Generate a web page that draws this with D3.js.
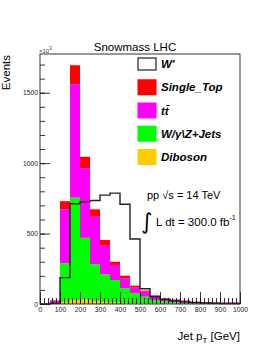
<!DOCTYPE html>
<meta charset="utf-8" />
<style>
  body {
    background: #fff;
    margin: 0px;
  }
  text {
    font-family: "Liberation Sans", Arial, sans-serif;
  }
  .axis path {
    display: none;
  }
  .axis line {
    stroke: #000;
    stroke-width: 0.8px;
  }
  .axis text {
    font-size: 6.8px;
    fill: #222;
  }
  .legend text {
    font-size: 11.5px;
    font-weight: bold;
    font-style: italic;
  }
</style>
<body></body>
<script src="https://d3js.org/d3.v7.min.js"></script>
<script>
  var width = 274,
    height = 355;

  var margin = { top: 54, right: 33, bottom: 51, left: 40 };

  // bin low edges, GeV (50 GeV wide bins)
  var binLow = [0, 50, 100, 150, 200, 250, 300, 350, 400, 450,
    500, 550, 600, 650, 700, 750, 800, 850, 900, 950];
  var binWidth = 50;

  // stacked backgrounds, bottom to top
  var diboson = [0, 2, 15, 28, 30, 22, 16, 11, 8, 6, 4, 3, 2, 2, 1, 1, 1, 1, 1, 1];
  var wjets = [0, 6, 274, 727, 440, 260, 194, 159, 103, 70, 48, 25, 19, 12, 9, 6, 4, 3, 2, 2];
  var ttbar = [0, 17, 383, 805, 492, 337, 204, 107, 71, 40, 35, 31, 19, 17, 13, 10, 8, 6, 6, 9];
  var singleTop = [0, 2, 58, 135, 83, 53, 40, 23, 19, 14, 8, 4, 3, 2, 2, 1, 1, 1, 1, 1];

  // signal, drawn as outline
  var wprime = [0, 5, 187, 712, 725, 735, 773, 787, 708, 462, 108, 52, 33, 22, 15, 10, 7, 5, 4, 3];

  var xTicks = [0, 100, 200, 300, 400, 500, 600, 700, 800, 900, 1000];
  var yTicks = [0, 500, 1000, 1500];

  var legendEntries = [
    { key: "wprime", label: "W'", color: "#fff" },
    { key: "singleTop", label: "Single_Top", color: "#ff0000" },
    { key: "ttbar", label: "tt\u0304", color: "#ff00ff" },
    { key: "wjets", label: "W/\u03b3\\Z+Jets", color: "#00ff00" },
    { key: "diboson", label: "Diboson", color: "#ffcc00" },
  ];

  var colors = {
    diboson: "#ffcc00",
    wjets: "#00ff00",
    ttbar: "#ff00ff",
    singleTop: "#ff0000",
  };

  var rows = binLow.map(function (lo, i) {
    return {
      lo: lo,
      diboson: diboson[i],
      wjets: wjets[i],
      ttbar: ttbar[i],
      singleTop: singleTop[i],
    };
  });

  var x = d3
    .scaleLinear()
    .domain([0, 1000])
    .range([margin.left, width - margin.right - 1]);

  var y = d3
    .scaleLinear()
    .domain([0, 1775])
    .range([height - margin.bottom, margin.top]);

  var svg = d3
    .select("body")
    .append("svg")
    .attr("width", width)
    .attr("height", height);

  var series = d3
    .stack()
    .keys(["diboson", "wjets", "ttbar", "singleTop"])(rows);

  svg
    .append("g")
    .selectAll("g")
    .data(series)
    .enter()
    .append("g")
    .attr("fill", function (d) {
      return colors[d.key];
    })
    .selectAll("rect")
    .data(function (d) {
      return d;
    })
    .enter()
    .append("rect")
    .attr("x", function (d) {
      return x(d.data.lo);
    })
    .attr("width", function (d) {
      return x(d.data.lo + binWidth) - x(d.data.lo);
    })
    .attr("y", function (d) {
      return y(d[1]);
    })
    .attr("height", function (d) {
      return y(d[0]) - y(d[1]);
    });

  // W' outline
  var pts = [[binLow[0], 0]];
  binLow.forEach(function (lo, i) {
    pts.push([lo, wprime[i]]);
  });
  pts.push([1000, wprime[wprime.length - 1]]);
  pts.push([1000, 0]);

  svg
    .append("path")
    .datum(pts)
    .attr("fill", "none")
    .attr("stroke", "#222")
    .attr("stroke-width", 1.4)
    .attr(
      "d",
      d3
        .line()
        .x(function (d) {
          return x(d[0]);
        })
        .y(function (d) {
          return y(d[1]);
        })
        .curve(d3.curveStepAfter)
    );

  // axes, ticks pointing inwards
  var xAxis = svg
    .append("g")
    .attr("class", "axis")
    .attr("transform", "translate(0," + y(0) + ")");
  xAxis.call(
    d3.axisBottom(x).tickValues(d3.range(0, 1001, 20)).tickSize(-6).tickFormat("")
  );
  xAxis
    .append("g")
    .call(
      d3.axisBottom(x).tickValues(xTicks).tickSize(-12).tickPadding(3).tickFormat(d3.format("d"))
    );

  var yAxis = svg
    .append("g")
    .attr("class", "axis")
    .attr("transform", "translate(" + x(0) + ",0)");
  yAxis.call(
    d3.axisLeft(y).tickValues(d3.range(0, 1701, 100)).tickSize(-5).tickFormat("")
  );
  yAxis
    .append("g")
    .call(d3.axisLeft(y).tickValues(yTicks).tickSize(-10).tickPadding(2).tickFormat(d3.format("d")));

  // frame
  svg
    .append("rect")
    .attr("x", x(0))
    .attr("y", y.range()[1])
    .attr("width", x(1000) - x(0))
    .attr("height", y(0) - y.range()[1])
    .attr("fill", "none")
    .attr("stroke", "#333")
    .attr("stroke-width", 1);

  // exponent label
  var expo = svg
    .append("text")
    .attr("x", 39)
    .attr("y", 52.5)
    .style("font-size", "6px")
    .style("fill", "#333")
    .text("\u00d710");
  expo.append("tspan").attr("dy", -2.5).style("font-size", "4.5px").text("3");

  // title
  svg
    .append("text")
    .attr("x", 135)
    .attr("y", 51)
    .attr("text-anchor", "middle")
    .style("font-size", "11.5px")
    .text("Snowmass LHC");

  svg
    .append("text")
    .attr("transform", "translate(10,55) rotate(-90)")
    .attr("text-anchor", "end")
    .style("font-size", "11.5px")
    .text("Events");

  var xt = svg
    .append("text")
    .attr("x", 240)
    .attr("y", 340)
    .attr("text-anchor", "end")
    .style("font-size", "11.5px")
    .text("Jet p");
  xt.append("tspan").attr("dy", 3).style("font-size", "8px").text("T");
  xt.append("tspan").attr("dy", -3).text(" [GeV]");

  // legend
  var legend = svg.append("g").attr("class", "legend");
  var rowY = d3.scalePoint().domain(d3.range(legendEntries.length)).range([64, 157]);

  legendEntries.forEach(function (e, i) {
    var cy = rowY(i);
    if (e.key === "wprime") {
      legend
        .append("rect")
        .attr("x", 138)
        .attr("y", cy - 6)
        .attr("width", 18)
        .attr("height", 12)
        .attr("fill", "#fff")
        .attr("stroke", "#222")
        .attr("stroke-width", 1.2);
    } else {
      legend
        .append("rect")
        .attr("x", 137.5)
        .attr("y", cy - 8)
        .attr("width", 19)
        .attr("height", 16)
        .attr("fill", e.color);
    }
    legend
      .append("text")
      .attr("x", 161)
      .attr("y", cy + 4)
      .text(e.label);
  });

  svg
    .append("text")
    .attr("x", 147)
    .attr("y", 199)
    .style("font-size", "11px")
    .text("pp \u221as = 14 TeV");

  svg
    .append("text")
    .attr("x", 141)
    .attr("y", 229)
    .style("font-size", "22px")
    .style("font-family", "DejaVu Sans")
    .text("\u222b");

  var lumi = svg
    .append("text")
    .attr("x", 156)
    .attr("y", 226)
    .style("font-size", "11.5px")
    .text("L dt = 300.0 fb");
  lumi.append("tspan").attr("dy", -6).style("font-size", "7px").text("-1");
</script>
